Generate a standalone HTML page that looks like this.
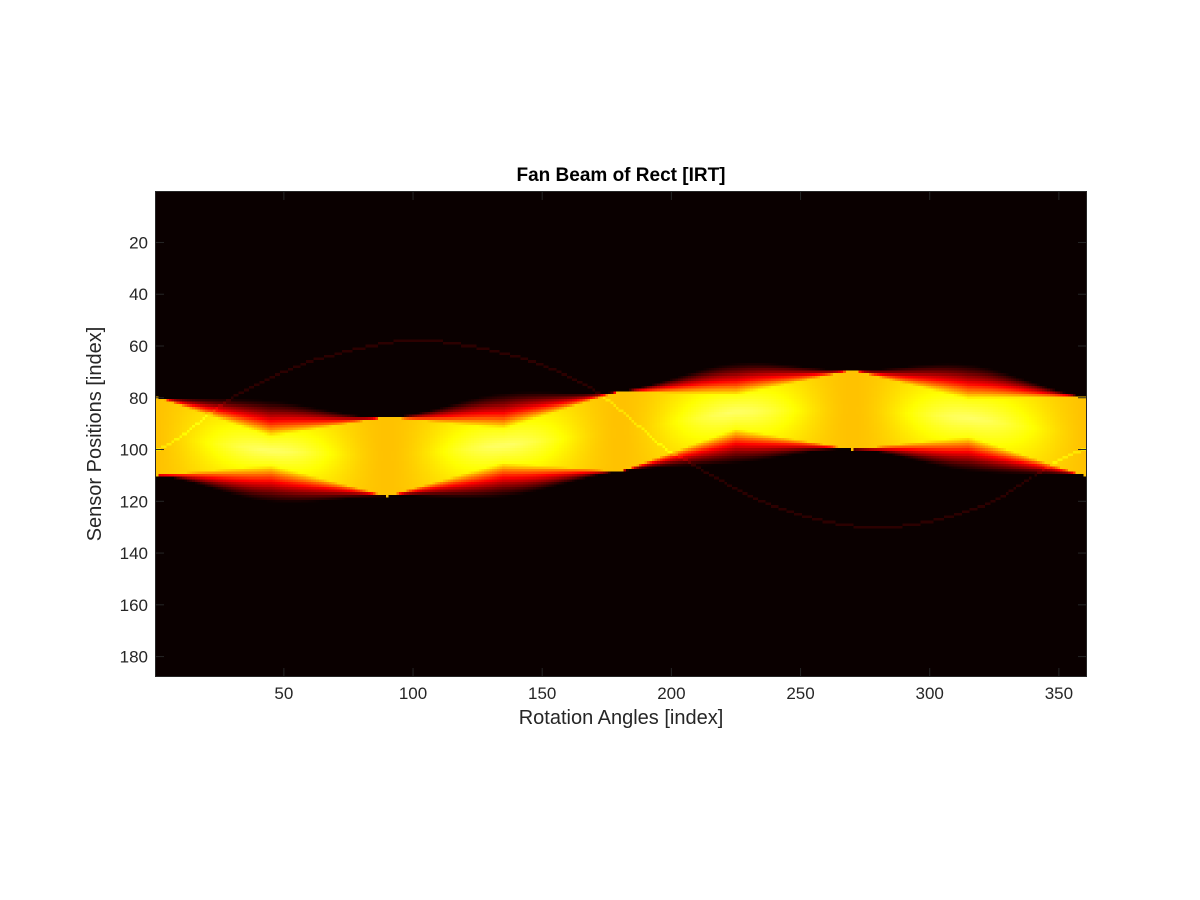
<!DOCTYPE html>
<html><head><meta charset="utf-8"><style>
body{margin:0;background:#fff;width:1200px;height:900px;overflow:hidden;position:relative;font-family:"Liberation Sans",sans-serif}
#img{position:absolute;left:156px;top:192px;width:930px;height:484px;image-rendering:pixelated}
svg{position:absolute;left:0;top:0}
</style></head><body>
<canvas id="img" width="360" height="187"></canvas>
<svg id="ov" width="1200" height="900"></svg>
<script>
// keypoint data
const keyAngles=[1,45,90,135,180,225,270,315,360];
const outerTop=[80,80.5,87.5,77.5,77.5,66,69.5,66.5,79.5];
const innerTop=[80,95,87.5,92,77.5,79,69.5,80.5,79.5];
const innerBot=[110,106,118,105,108.5,92,100,95,110];
const outerBot=[110,121,118,119,108.5,106,100,109,110];
const innerLevel=[0.66,0.76,0.66,0.76,0.66,0.76,0.66,0.76,0.66];
const lineAngles=[1,30,60,100,140,170,198,240,280,320,360];
const lineRows=[100,80,66,58,64,77,100,122,130,122,100];
const xTicks=[50,100,150,200,250,300,350];
const yTicks=[20,40,60,80,100,120,140,160,180];
const nCols=360,nRows=187;

function lin(xs,ys,x){
  for(let i=0;i<xs.length-1;i++){
    if(x<=xs[i+1]){const t=(x-xs[i])/(xs[i+1]-xs[i]);return ys[i]+(ys[i+1]-ys[i])*t;}
  }
  return ys[ys.length-1];
}
function spline(xs,ys,x){
  const n=xs.length;
  for(let i=0;i<n-1;i++){
    if(x<=xs[i+1]){
      const t=(x-xs[i])/(xs[i+1]-xs[i]);
      const p0=ys[Math.max(0,i-1)],p1=ys[i],p2=ys[i+1],p3=ys[Math.min(n-1,i+2)];
      const t2=t*t,t3=t2*t;
      return 0.5*((2*p1)+(-p0+p2)*t+(2*p0-5*p1+4*p2-p3)*t2+(-p0+3*p1-3*p2+p3)*t3);
    }
  }
  return ys[n-1];
}
function hot(v){v=Math.max(0,Math.min(1,v));
  return [255*Math.min(1,v/0.375),255*Math.max(0,Math.min(1,(v-0.375)/0.375)),255*Math.max(0,(v-0.75)/0.25)];}
const cv=document.getElementById('img'),ctx=cv.getContext('2d');
const im=ctx.createImageData(nCols,nRows);
for(let c=0;c<nCols;c++){
  const a=c+1;
  const iT=lin(keyAngles,innerTop,a),iB=lin(keyAngles,innerBot,a);
  const oT=Math.min(iT,spline(keyAngles,outerTop,a)),oB=Math.max(iB,spline(keyAngles,outerBot,a));
  const lv=spline(keyAngles,innerLevel,a),lr=spline(lineAngles,lineRows,a);
  for(let r=0;r<nRows;r++){
    const row=r+1;let v=0.015;
    if(row>=iT&&row<=iB){const mid=(iT+iB)/2,hw=Math.max(1,(iB-iT)/2);
      v=lv+0.9*(lv-0.66)*(1-Math.abs(row-mid)/hw);}
    else if(row>=oT&&row<iT){const t=(row-oT)/(iT-oT);v=Math.max(0.015,lv*Math.pow(t,1.3));}
    else if(row>iB&&row<=oB){const t=(oB-row)/(oB-iB);v=Math.max(0.015,lv*Math.pow(t,1.3));}
    if(Math.abs(row-lr)<0.5)v+=0.05;
    const col=hot(v),k=(r*nCols+c)*4;
    im.data[k]=col[0];im.data[k+1]=col[1];im.data[k+2]=col[2];im.data[k+3]=255;
  }
}
ctx.putImageData(im,0,0);

const NS='http://www.w3.org/2000/svg',svg=document.getElementById('ov');
const L=156,T=192,W=930,H=484;
const xs=v=>L+(v-0.5)/nCols*W, ys=v=>T+(v-0.5)/nRows*H;
function el(tag,at,txt){const e=document.createElementNS(NS,tag);for(const k in at)e.setAttribute(k,at[k]);if(txt!=null)e.textContent=txt;svg.appendChild(e);return e;}
let e=el('rect',{x:L-0.5,y:T-0.5,width:W+1,height:H+1,fill:'none',stroke:'#262626','stroke-width':1});


xTicks.forEach(v=>{const x=xs(v);
  el('line',{x1:x,y1:T+H,x2:x,y2:T+H-8,stroke:'#262626'});
  el('line',{x1:x,y1:T,x2:x,y2:T+8,stroke:'#262626'});
  const t=el('text',{x:x,y:T+H+23,'text-anchor':'middle','font-size':17,fill:'#262626'},v);
  
  
});
yTicks.forEach(v=>{const y=ys(v);
  el('line',{x1:L,y1:y,x2:L+8,y2:y,stroke:'#262626'});
  el('line',{x1:L+W,y1:y,x2:L+W-8,y2:y,stroke:'#262626'});
  const t=el('text',{x:L-8,y:y+6,'text-anchor':'end','font-size':17,fill:'#262626'},v);
  
  
});
e=el('text',{x:621,y:181,'text-anchor':'middle','font-size':19,'font-weight':'bold',fill:'#000'},'Fan Beam of Rect [IRT]');


e=el('text',{x:621,y:724,'text-anchor':'middle','font-size':20,fill:'#262626'},'Rotation Angles [index]');


e=el('text',{x:101,y:434,'text-anchor':'middle','font-size':20,fill:'#262626',transform:'rotate(-90 101 434)'},'Sensor Positions [index]');


</script>
</body></html>
